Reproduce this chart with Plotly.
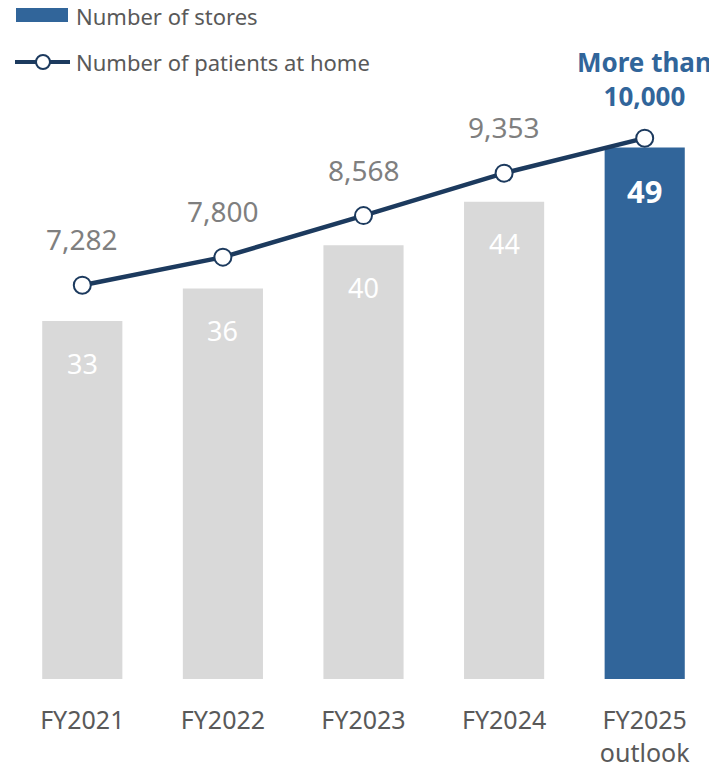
import plotly.graph_objects as go

categories = ["FY2021", "FY2022", "FY2023", "FY2024", "FY2025<br>outlook"]
stores = [33, 36, 40, 44, 49]
patients = [7282, 7800, 8568, 9353, 10000]
patient_labels = ["7,282", "7,800", "8,568", "9,353", "More than<br>10,000"]

GRAY = "#d9d9d9"
BLUE = "#31659a"
NAVY = "#1c3a5e"
LABEL_GRAY = "#7f7f7f"
TICK_GRAY = "#595959"
FONT = "Noto Sans"

bar_colors = [GRAY] * (len(stores) - 1) + [BLUE]

fig = go.Figure()
fig.add_trace(go.Bar(
    x=categories, y=stores, marker=dict(color=bar_colors, line=dict(width=0)),
    name="Number of stores", yaxis="y", showlegend=False, hoverinfo="skip",
))
fig.add_trace(go.Scatter(
    x=categories, y=patients, mode="lines+markers", yaxis="y2",
    line=dict(color=NAVY, width=4.5),
    marker=dict(size=17, color="white", line=dict(color=NAVY, width=2)),
    name="Number of patients at home", showlegend=False, cliponaxis=False,
    hoverinfo="skip",
))

annotations = []
for i, (c, v) in enumerate(zip(categories, stores)):
    last = i == len(stores) - 1
    annotations.append(dict(
        x=c, y=v, xref="x", yref="y", text=str(v), showarrow=False,
        yshift=-43 if last else -42, yanchor="middle",
        font=dict(family=FONT, size=31 if last else 27, color="white",
                  weight="bold" if last else "normal"),
    ))
for i, (c, v, t) in enumerate(zip(categories, patients, patient_labels)):
    last = i == len(patients) - 1
    if last:
        annotations.append(dict(
            x=c, y=v, xref="x", yref="y2", text="<b>" + t + "</b>", showarrow=False,
            yshift=59, yanchor="middle",
            font=dict(family=FONT, size=26, color=BLUE),
        ))
    else:
        annotations.append(dict(
            x=c, y=v, xref="x", yref="y2", text=t, showarrow=False,
            yshift=46, yanchor="middle",
            font=dict(family=FONT, size=28, color=LABEL_GRAY),
        ))

# page offset (body margin) compensation
OFF = 8
W, HT = 717 - OFF, 772 - OFF
L, R, T, B = 12 - OFF, 2, 20 - OFF, 93
H = HT - T - B
PW = W - L - R

def px(x):
    return (x - OFF - L) / PW

def py(y):
    return (HT - B - (y - OFF)) / H

shapes = [
    dict(type="rect", xref="paper", yref="paper", x0=px(16), x1=px(68), y0=py(22), y1=py(7),
         fillcolor=BLUE, line=dict(width=0)),
    dict(type="line", xref="paper", yref="paper", x0=px(15), x1=px(70), y0=py(62), y1=py(62),
         line=dict(color=NAVY, width=4)),
    dict(type="circle", xref="paper", yref="paper", xsizemode="pixel", ysizemode="pixel",
         xanchor=px(43), yanchor=py(62), x0=-7, x1=7, y0=-7, y1=7,
         fillcolor="white", line=dict(color=NAVY, width=2)),
]
annotations.append(dict(x=px(74), y=py(16), xref="paper", yref="paper", text="Number of stores",
                        showarrow=False, xanchor="left", yanchor="middle",
                        font=dict(family=FONT, size=22, color=TICK_GRAY)))
annotations.append(dict(x=px(74), y=py(62), xref="paper", yref="paper",
                        text="Number of patients at home",
                        showarrow=False, xanchor="left", yanchor="middle",
                        font=dict(family=FONT, size=22, color=TICK_GRAY)))

fig.update_layout(
    width=W, height=HT,
    margin=dict(l=L, r=R, t=T, b=B),
    paper_bgcolor="white", plot_bgcolor="white",
    bargap=0.43,
    showlegend=False,
    xaxis=dict(type="category", showgrid=False, zeroline=False, showline=False,
               ticks="outside", ticklen=19, tickcolor="rgba(0,0,0,0)",
               tickfont=dict(family=FONT, size=25, color=TICK_GRAY)),
    yaxis=dict(range=[0, H / 10.845], visible=False, fixedrange=True),
    yaxis2=dict(range=[0, H * 18.49], overlaying="y", visible=False, fixedrange=True),
    annotations=annotations,
    shapes=shapes,
)

fig.write_html("out.html")
